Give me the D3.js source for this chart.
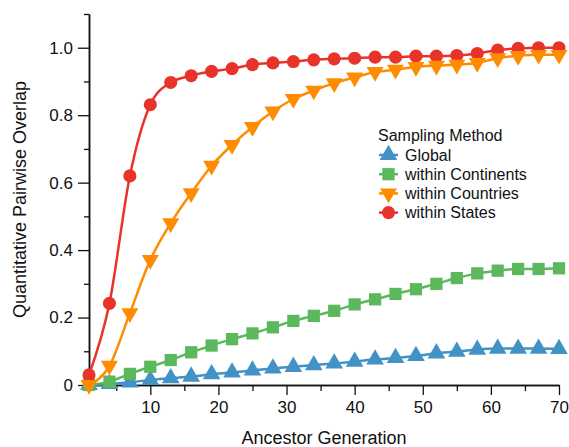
<!DOCTYPE html>
<html>
<head>
<meta charset="utf-8">
<script src="https://cdn.jsdelivr.net/npm/d3@7"></script>
<style>
  body { margin: 0; background: #fff; }
  text { font-family: "Liberation Sans", Arial, Helvetica, sans-serif; }
</style>
</head>
<body>
<div id="vis-container"></div>
<script>
// Data
var generations = [1, 4, 7, 10, 13, 16, 19, 22, 25, 28, 31, 34, 37, 40, 43, 46, 49, 52, 55, 58, 61, 64, 67, 70];
var globalValues = [0, 0.003, 0.008, 0.015, 0.02, 0.025, 0.032, 0.037, 0.043, 0.049, 0.054, 0.059, 0.064, 0.069, 0.076, 0.08, 0.086, 0.094, 0.099, 0.105, 0.108, 0.108, 0.108, 0.107];
var continentValues = [0, 0.01, 0.033, 0.054, 0.074, 0.097, 0.117, 0.136, 0.153, 0.171, 0.19, 0.205, 0.22, 0.239, 0.254, 0.27, 0.284, 0.3, 0.317, 0.331, 0.339, 0.344, 0.344, 0.346];
var countryValues = [0, 0.057, 0.213, 0.371, 0.48, 0.569, 0.65, 0.712, 0.765, 0.811, 0.848, 0.873, 0.895, 0.912, 0.928, 0.935, 0.943, 0.947, 0.95, 0.955, 0.969, 0.976, 0.979, 0.979];
var stateValues = [0.03, 0.242, 0.62, 0.831, 0.897, 0.917, 0.93, 0.938, 0.95, 0.955, 0.959, 0.964, 0.967, 0.969, 0.972, 0.972, 0.975, 0.975, 0.977, 0.983, 0.993, 0.998, 1.0, 1.0];

var seriesNames = ["Global", "within Continents", "within Countries", "within States"];
var seriesColors = ["#4292c6", "#5cb85c", "#ff8c00", "#e8332a"];
var seriesSymbols = [d3.symbolTriangle, d3.symbolSquare, "down", d3.symbolCircle];
var seriesValues = [globalValues, continentValues, countryValues, stateValues];

var xMajorTicks = [10, 20, 30, 40, 50, 60, 70];
var xMinorTicks = [5, 15, 25, 35, 45, 55, 65];
var yMajorTicks = [0, 0.2, 0.4, 0.6, 0.8, 1.0];
var yMinorTicks = [0.1, 0.3, 0.5, 0.7, 0.9, 1.1];

// Set the dimensions of the chart
var margin = { top: 14, right: 10, bottom: 62, left: 89 };
var width = 569 - margin.left - margin.right;
var height = 447 - margin.top - margin.bottom;

var svg = d3.select("#vis-container")
	.append("svg")
	.attr("width", width + margin.left + margin.right)
	.attr("height", height + margin.top + margin.bottom)
	.style("background", "#fff")
	.append("g")
	.attr("transform", "translate(" + margin.left + "," + margin.top + ")");

var xScale = d3.scaleLinear().domain([1, 70]).range([0, width]);
var yScale = d3.scaleLinear().domain([0, 1.1]).range([height, 0]);

function styleAxis(g) {
	g.select(".domain").attr("stroke", "#111").attr("stroke-width", 1.5);
	g.selectAll(".tick line").attr("stroke", "#111").attr("stroke-width", 1.3);
	g.selectAll(".tick text").attr("fill", "#111").style("font-size", "17px")
		.style("font-family", "'Liberation Sans', Arial, sans-serif");
}

// minor ticks first, then major ones with labels
svg.append("g")
	.attr("transform", "translate(0," + height + ")")
	.call(d3.axisBottom(xScale).tickValues(xMinorTicks).tickSize(6).tickSizeOuter(0).tickFormat(""))
	.call(styleAxis);
svg.append("g")
	.attr("transform", "translate(0," + height + ")")
	.call(d3.axisBottom(xScale).tickValues(xMajorTicks).tickSize(10).tickPadding(6).tickSizeOuter(0))
	.call(styleAxis);

svg.append("g")
	.call(d3.axisLeft(yScale).tickValues(yMinorTicks).tickSize(5).tickSizeOuter(0).tickFormat(""))
	.call(styleAxis);
svg.append("g")
	.call(d3.axisLeft(yScale).tickValues(yMajorTicks).tickSize(11).tickPadding(5).tickSizeOuter(0)
		.tickFormat(function (d) { return d === 0 ? "0" : d3.format(".1f")(d); }))
	.call(styleAxis);

// Axis labels
svg.append("text")
	.attr("x", width / 2)
	.attr("y", height + 59)
	.style("text-anchor", "middle")
	.style("font-size", "18px")
	.attr("fill", "#111")
	.text("Ancestor Generation");

svg.append("text")
	.attr("transform", "rotate(-90)")
	.attr("x", -height / 2)
	.attr("y", -63)
	.style("text-anchor", "middle")
	.style("font-size", "18px")
	.attr("fill", "#111")
	.text("Quantitative Pairwise Overlap");

function markerPath(sym, size) {
	if (sym === "down") {
		return d3.symbol().type(d3.symbolTriangle).size(size)();
	}
	return d3.symbol().type(sym).size(size)();
}
var markerSizes = [135, 150, 125, 135];

var line = d3.line()
	.x(function (d) { return xScale(d.x); })
	.y(function (d) { return yScale(d.y); })
	.curve(d3.curveMonotoneX);

// draw order: blue, green, red, orange on top
[0, 1, 3, 2].forEach(function (i) {
	var pts = generations.map(function (g, j) { return { x: g, y: seriesValues[i][j] }; });
	var g = svg.append("g");
	g.append("path")
		.datum(pts)
		.attr("fill", "none")
		.attr("stroke", seriesColors[i])
		.attr("stroke-width", 2.5)
		.attr("d", line);
	g.selectAll("path.mark")
		.data(pts)
		.enter()
		.append("path")
		.attr("class", "mark")
		.attr("d", markerPath(seriesSymbols[i], markerSizes[i]))
		.attr("fill", seriesColors[i])
		.attr("transform", function (d) {
			var t = "translate(" + xScale(d.x) + "," + yScale(d.y) + ")";
			return seriesSymbols[i] === "down" ? t + " rotate(180)" : t;
		});
});

// Legend
var legend = svg.append("g").attr("transform", "translate(" + (378 - margin.left) + "," + (141 - margin.top) + ")");
legend.append("text")
	.attr("x", 0)
	.attr("y", 0)
	.style("font-size", "16px")
	.attr("fill", "#111")
	.text("Sampling Method");
seriesNames.forEach(function (name, i) {
	var cy = 14 + i * 19.2;
	var row = legend.append("g").attr("transform", "translate(0," + cy + ")");
	row.append("line")
		.attr("x1", 1).attr("x2", 20)
		.attr("stroke", seriesColors[i]).attr("stroke-width", 2.5);
	row.append("path")
		.attr("d", markerPath(seriesSymbols[i], markerSizes[i]))
		.attr("fill", seriesColors[i])
		.attr("transform", "translate(10.5,0)" + (seriesSymbols[i] === "down" ? " rotate(180)" : ""));
	row.append("text")
		.attr("x", 27)
		.attr("dy", "0.35em")
		.style("font-size", "16px")
		.attr("fill", "#111")
		.text(name);
});
</script>
</body>
</html>
